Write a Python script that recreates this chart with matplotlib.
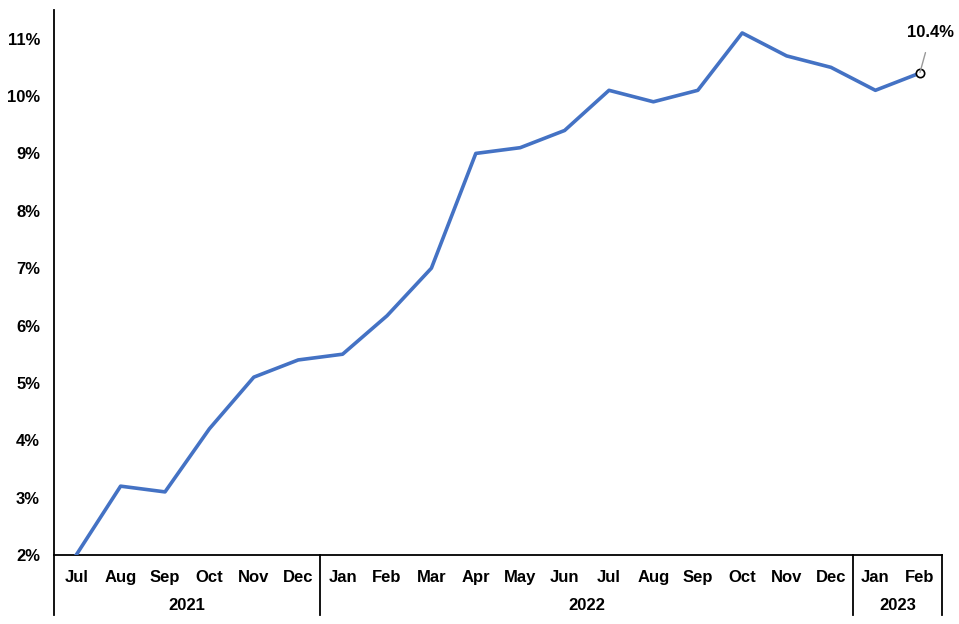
import matplotlib
matplotlib.use("Agg")
import matplotlib.pyplot as plt
import matplotlib.transforms as mtransforms

months = ["Jul", "Aug", "Sep", "Oct", "Nov", "Dec",
          "Jan", "Feb", "Mar", "Apr", "May", "Jun", "Jul", "Aug", "Sep", "Oct", "Nov", "Dec",
          "Jan", "Feb"]
values = [2.0, 3.2, 3.1, 4.2, 5.1, 5.4,
          5.5, 6.17, 7.0, 9.0, 9.1, 9.4, 10.1, 9.9, 10.1, 11.1, 10.7, 10.5,
          10.1, 10.4]
years = ["2021", "2022", "2023"]
year_counts = [6, 12, 2]
yticks = [2, 3, 4, 5, 6, 7, 8, 9, 10, 11]
last_label = "10.4%"

plt.rcParams['font.family'] = ['Liberation Sans', 'DejaVu Sans']

fig = plt.figure(figsize=(9.59, 6.24), dpi=100)
W, H = 959, 624
ax = fig.add_axes([54 / W, (H - 555) / H, 888 / W, 545 / H])

x = list(range(len(values)))
ax.plot(x, values, color="#4472C4", lw=2.6, solid_joinstyle="round", zorder=3)
ax.plot([x[-1]], [values[-1]], marker="o", ms=6, mfc="white", mec="black", mew=1.2, zorder=4)
ax.annotate(last_label, xy=(x[-1], values[-1]), xytext=(x[-1] + 0.25, 11.1),
            ha="center", va="center", fontsize=12, fontweight="bold",
            arrowprops=dict(arrowstyle="-", color="#999999", lw=1, shrinkA=7, shrinkB=0.5),
            annotation_clip=False, zorder=5)

ax.set_xlim(-0.5, len(values) - 0.5)
ax.set_ylim(2, 11.5)
ax.set_yticks(yticks)
ax.set_yticklabels([f"{v}%" for v in yticks], fontsize=12, fontweight="bold")
ax.tick_params(axis="y", length=0, pad=10)
ax.set_xticks(x)
ax.set_xticklabels(months, fontsize=12, fontweight="bold")
ax.tick_params(axis="x", length=0, pad=11)

for s in ["top", "right"]:
    ax.spines[s].set_visible(False)
for s in ["left", "bottom"]:
    ax.spines[s].set_linewidth(1.3)
    ax.spines[s].set_color("black")

trans = mtransforms.blended_transform_factory(ax.transData, ax.transAxes)
depth = -60 / 545
bounds = [-0.5]
acc = -0.5
for c in year_counts:
    acc += c
    bounds.append(acc)
for b in bounds:
    ax.plot([b, b], [0, depth], transform=trans, color="black", lw=1.3, clip_on=False)
for i, (yr, c) in enumerate(zip(years, year_counts)):
    center = (bounds[i] + bounds[i + 1]) / 2
    ax.text(center, -51 / 545, yr, transform=trans, ha="center", va="center",
            fontsize=12, fontweight="bold")

fig.savefig("out.png", dpi=100)
